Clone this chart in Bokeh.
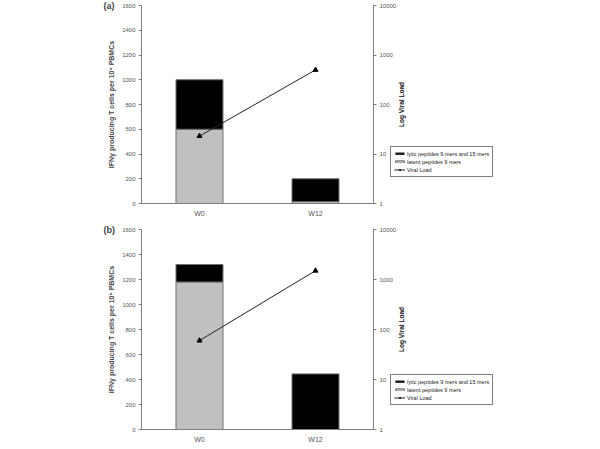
import math
from bokeh.plotting import figure
from bokeh.models import (Range1d, FixedTicker, PrintfTickFormatter, Legend, LegendItem,
                          Label, Title, FactorRange, ColumnDataSource, LogScale, LogAxis)
from bokeh.layouts import column, row
from bokeh.embed import file_html
from bokeh.resources import INLINE

weeks = ["W0", "W12"]
latent_a = [600, 15]
lytic_a = [400, 185]
viral_a = [23, 500]
latent_b = [1180, 0]
lytic_b = [140, 445]
viral_b = [60, 1500]
left_ticks = [0, 200, 400, 600, 800, 1000, 1200, 1400, 1600]
right_ticks = [1, 10, 100, 1000, 10000]

FONT = "Liberation Sans"
AXC = "#7f7f7f"
TICKC = "#555555"


def style_axis(ax):
    ax.major_label_text_font = FONT
    ax.major_label_text_font_size = "6px"
    ax.major_label_text_color = TICKC
    ax.major_label_standoff = 3
    ax.axis_line_color = AXC
    ax.major_tick_line_color = AXC
    ax.major_tick_out = 3
    ax.major_tick_in = 0
    ax.minor_tick_out = 0
    ax.minor_tick_in = 0


def add_glyphs(p, src, visible=True):
    bars = p.vbar_stack(["latent", "lytic"], x="week", width=0.405, source=src,
                        fill_color=["#c0c0c0", "#000000"], line_color=["#707070", "#707070"],
                        line_width=1, visible=visible)
    kw = dict(y_range_name="vl") if visible else {}
    ln = p.line(x="week", y="viral", source=src, line_color="#222222", line_width=1,
                visible=visible, **kw)
    mk = p.scatter(x="week", y="viral", source=src, marker="triangle", size=5,
                   fill_color="black", line_color="black", visible=visible, **kw)
    return bars, ln, mk


def make_panel(tag, latent, lytic, viral, frame_h, top, bottom, leg_y):
    src = ColumnDataSource(dict(week=weeks, latent=latent, lytic=lytic, viral=viral))
    p = figure(x_range=FactorRange(*weeks, range_padding=0), y_range=Range1d(0, 1600),
               frame_width=232, frame_height=frame_h, output_backend="svg",
               toolbar_location=None, min_border_left=141, min_border_right=0,
               min_border_top=top, min_border_bottom=bottom,
               background_fill_color="white", border_fill_color="white",
               outline_line_color=None)
    p.grid.visible = False
    p.extra_y_ranges = {"vl": Range1d(1, 10000)}
    p.extra_y_scales = {"vl": LogScale()}
    add_glyphs(p, src, True)

    ya = p.yaxis[0]
    ya.ticker = FixedTicker(ticks=left_ticks)
    style_axis(ya)
    ya.axis_label = "IFNγ producing T cells per 10⁶ PBMCs"
    ya.axis_label_text_font = FONT
    ya.axis_label_text_font_style = "bold"
    ya.axis_label_text_font_size = "7px"
    ya.axis_label_standoff = 4

    xa = p.xaxis[0]
    style_axis(xa)
    xa.major_label_text_font_size = "7px"
    xa.major_tick_out = 0
    xa.major_label_standoff = 6

    ra = LogAxis(y_range_name="vl", ticker=FixedTicker(ticks=right_ticks),
                 formatter=PrintfTickFormatter(format="%d"))
    style_axis(ra)
    p.add_layout(ra, "right")

    p.add_layout(Title(text=tag, align="left", offset=-38, standoff=-10,
                       text_font=FONT, text_font_style="bold", text_font_size="9px",
                       vertical_align="bottom"), "above")

    # companion figure holding the right axis title and the legend
    q = figure(x_range=FactorRange(*weeks), y_range=Range1d(0, 1600),
               frame_width=190, frame_height=frame_h, output_backend="svg",
               toolbar_location=None, min_border_left=0, min_border_right=0,
               min_border_top=top, min_border_bottom=bottom,
               x_axis_location=None, y_axis_location=None,
               background_fill_alpha=0, border_fill_alpha=0, outline_line_color=None,
               margin=(0, 0, 0, -10))
    q.grid.visible = False
    bars, ln, mk = add_glyphs(q, src, False)
    q.add_layout(Label(x=12, y=frame_h / 2, x_units="screen", y_units="screen",
                       text="Log Viral Load", angle=math.pi / 2, text_align="center",
                       text_baseline="middle", text_font=FONT, text_font_style="bold",
                       text_font_size="6.5px", text_color="#111111"))
    leg = Legend(items=[
        LegendItem(label="lytic peptides 9 mers and 15 mers", renderers=[bars[1]]),
        LegendItem(label="latent peptides 9 mers", renderers=[bars[0]]),
        LegendItem(label="Viral Load", renderers=[ln, mk]),
    ], location=(1, leg_y))
    leg.label_text_font = FONT
    leg.label_text_font_size = "5.5px"
    leg.label_text_color = "#222222"
    leg.label_height = 7
    leg.label_standoff = 2
    leg.glyph_height = 3
    leg.glyph_width = 11
    leg.spacing = 1
    leg.padding = 3
    leg.margin = 0
    leg.border_line_color = "black"
    leg.border_line_width = 1
    leg.background_fill_color = "white"
    leg.inactive_fill_alpha = 0
    q.add_layout(leg)
    return row(p, q, spacing=0)


ra_ = make_panel("(a)", latent_a, lytic_a, viral_a, 198, 5, 16, 26)
rb_ = make_panel("(b)", latent_b, lytic_b, viral_b, 200, 10, 16, 24)
layout = column(ra_, rb_, spacing=0)

open("out.html", "w").write(file_html(layout, INLINE))
